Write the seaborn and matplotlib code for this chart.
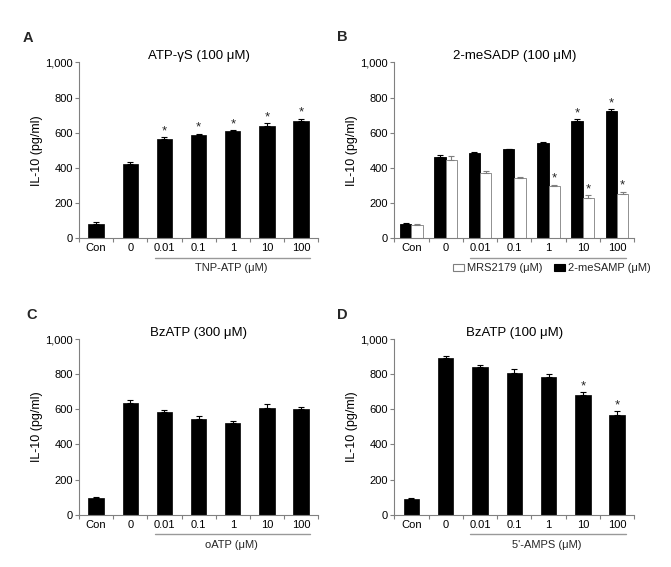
import matplotlib
matplotlib.use("Agg")
import matplotlib.pyplot as plt
import matplotlib.transforms as mtrans
from matplotlib.patches import Patch
import numpy as np
import pandas as pd
import seaborn as sns

sns.set_theme(style="ticks")
plt.rcParams['font.family'] = ['Liberation Sans', 'DejaVu Sans']

doses = ["Con", "0", "0.01", "0.1", "1", "10", "100"]

# panel A: ATP-gS + TNP-ATP
a_mean = [80, 420, 562, 585, 610, 640, 667]
a_err = [11, 12, 12, 10, 4, 13, 13]
a_star = [0, 0, 1, 1, 1, 1, 1]

# panel B: 2-meSADP + 2-meSAMP / MRS2179
b_samp_mean = [80, 463, 485, 506, 540, 665, 722]
b_samp_err = [5, 9, 3, 2, 5, 12, 11]
b_samp_star = [0, 0, 0, 0, 0, 1, 1]
b_mrs_mean = [78, 447, 373, 345, 300, 227, 254]
b_mrs_err = [5, 22, 10, 2, 5, 20, 11]
b_mrs_star = [0, 0, 0, 0, 1, 1, 1]

# panel C: BzATP 300 + oATP
c_mean = [95, 634, 586, 545, 522, 607, 600]
c_err = [4, 19, 10, 15, 11, 25, 11]
c_star = [0, 0, 0, 0, 0, 0, 0]

# panel D: BzATP 100 + 5'-AMPS
d_mean = [87, 890, 839, 806, 784, 679, 565]
d_err = [6, 15, 11, 25, 19, 17, 23]
d_star = [0, 0, 0, 0, 0, 1, 1]

SPINE = "#808080"
FS = 8


def style_axis(ax, title, xlabel):
    ax.set_xlim(-0.5, 6.5)
    ax.set_ylim(0, 1000)
    ax.set_yticks(range(0, 1001, 200))
    ax.set_yticklabels([f"{v:,}" for v in range(0, 1001, 200)])
    ax.set_xticks(range(len(doses)))
    ax.set_xticklabels(doses)
    ax.set_xticks(np.arange(-0.5, 7, 1), minor=True)
    ax.tick_params(axis="x", which="major", length=0, pad=3.5, labelsize=FS, colors="black")
    ax.tick_params(axis="x", which="minor", length=3, width=0.8, color=SPINE, direction="out")
    ax.tick_params(axis="y", length=3, width=0.8, color=SPINE, pad=1.5, labelsize=FS, labelcolor="black")
    sns.despine(ax=ax)
    for s in ["left", "bottom"]:
        ax.spines[s].set_color(SPINE)
        ax.spines[s].set_linewidth(0.8)
    ax.set_xlabel("")
    ax.set_ylabel("IL-10 (pg/ml)", fontsize=9, color="black")
    ax.yaxis.set_label_coords(-0.15, 0.5)
    ax.set_title(title, fontsize=9.5, pad=1.5, color="black")
    trans = mtrans.blended_transform_factory(ax.transData, ax.transAxes)
    ax.plot([1.72, 6.25], [-0.112, -0.112], transform=trans, color="#999999", lw=1, clip_on=False)
    if xlabel:
        ax.text(3.95, -0.17, xlabel, transform=trans, ha="center", va="center", fontsize=8)


def add_err_stars(ax, xs, means, errs, stars, ecolor):
    ax.errorbar(xs, means, yerr=[np.zeros(len(errs)), errs], fmt="none", ecolor=ecolor,
                elinewidth=0.8, capsize=2.5, capthick=0.8, zorder=5)
    for x, m, e, s in zip(xs, means, errs, stars):
        if s:
            ax.annotate("*", (x, m + e), xytext=(0, 2), textcoords="offset points",
                        ha="center", va="baseline", fontsize=9.5)


def single_panel(ax, means, errs, stars, title, xlabel):
    sns.barplot(x=doses, y=means, order=doses, color="black", width=0.45,
                errorbar=None, edgecolor="black", linewidth=0.5, ax=ax)
    style_axis(ax, title, xlabel)
    add_err_stars(ax, range(len(doses)), means, errs, stars, "black")


fig = plt.figure(figsize=(6.71, 5.67), dpi=100)
axA = fig.add_axes([0.1177, 0.5797, 0.3566, 0.3104])
axB = fig.add_axes([0.5876, 0.5797, 0.3576, 0.3104])
axC = fig.add_axes([0.1177, 0.0922, 0.3566, 0.3098])
axD = fig.add_axes([0.5876, 0.0922, 0.3576, 0.3098])

single_panel(axA, a_mean, a_err, a_star, "ATP-\u03b3S (100 \u03bcM)", "TNP-ATP (\u03bcM)")
single_panel(axC, c_mean, c_err, c_star, "BzATP (300 \u03bcM)", "oATP (\u03bcM)")
single_panel(axD, d_mean, d_err, d_star, "BzATP (100 \u03bcM)", "5'-AMPS (\u03bcM)")

# panel B, grouped bars
df_b = pd.DataFrame({
    "dose": doses * 2,
    "value": b_samp_mean + b_mrs_mean,
    "drug": ["2-meSAMP"] * len(doses) + ["MRS2179"] * len(doses),
})
sns.barplot(data=df_b, x="dose", y="value", hue="drug", order=doses,
            hue_order=["2-meSAMP", "MRS2179"], palette=["black", "white"],
            width=0.66, errorbar=None, legend=False, linewidth=0.6, ax=axB)
for p in axB.containers[0]:
    p.set_edgecolor("black")
for p in axB.containers[1]:
    p.set_edgecolor("#7f7f7f")
style_axis(axB, "2-meSADP (100 \u03bcM)", None)
xs_samp = [p.get_x() + p.get_width() / 2 for p in axB.containers[0]]
xs_mrs = [p.get_x() + p.get_width() / 2 for p in axB.containers[1]]
add_err_stars(axB, xs_samp, b_samp_mean, b_samp_err, b_samp_star, "black")
add_err_stars(axB, xs_mrs, b_mrs_mean, b_mrs_err, b_mrs_star, "#7f7f7f")
handles = [Patch(facecolor="white", edgecolor="#7f7f7f", linewidth=0.8),
           Patch(facecolor="black", edgecolor="black", linewidth=0.8)]
axB.legend(handles, ["MRS2179 (\u03bcM)", "2-meSAMP (\u03bcM)"], loc="center",
           bbox_to_anchor=(0.657, -0.17), ncol=2, frameon=False, fontsize=FS,
           handlelength=1.0, handleheight=0.65, handletextpad=0.3, columnspacing=1.0,
           borderpad=0, borderaxespad=0)

for label, x, y in [("A", 0.034, 0.933), ("B", 0.502, 0.935), ("C", 0.040, 0.444), ("D", 0.502, 0.444)]:
    fig.text(x, y, label, fontsize=10.5, fontweight="bold", va="center", ha="left")

fig.savefig("out.png", dpi=100)
